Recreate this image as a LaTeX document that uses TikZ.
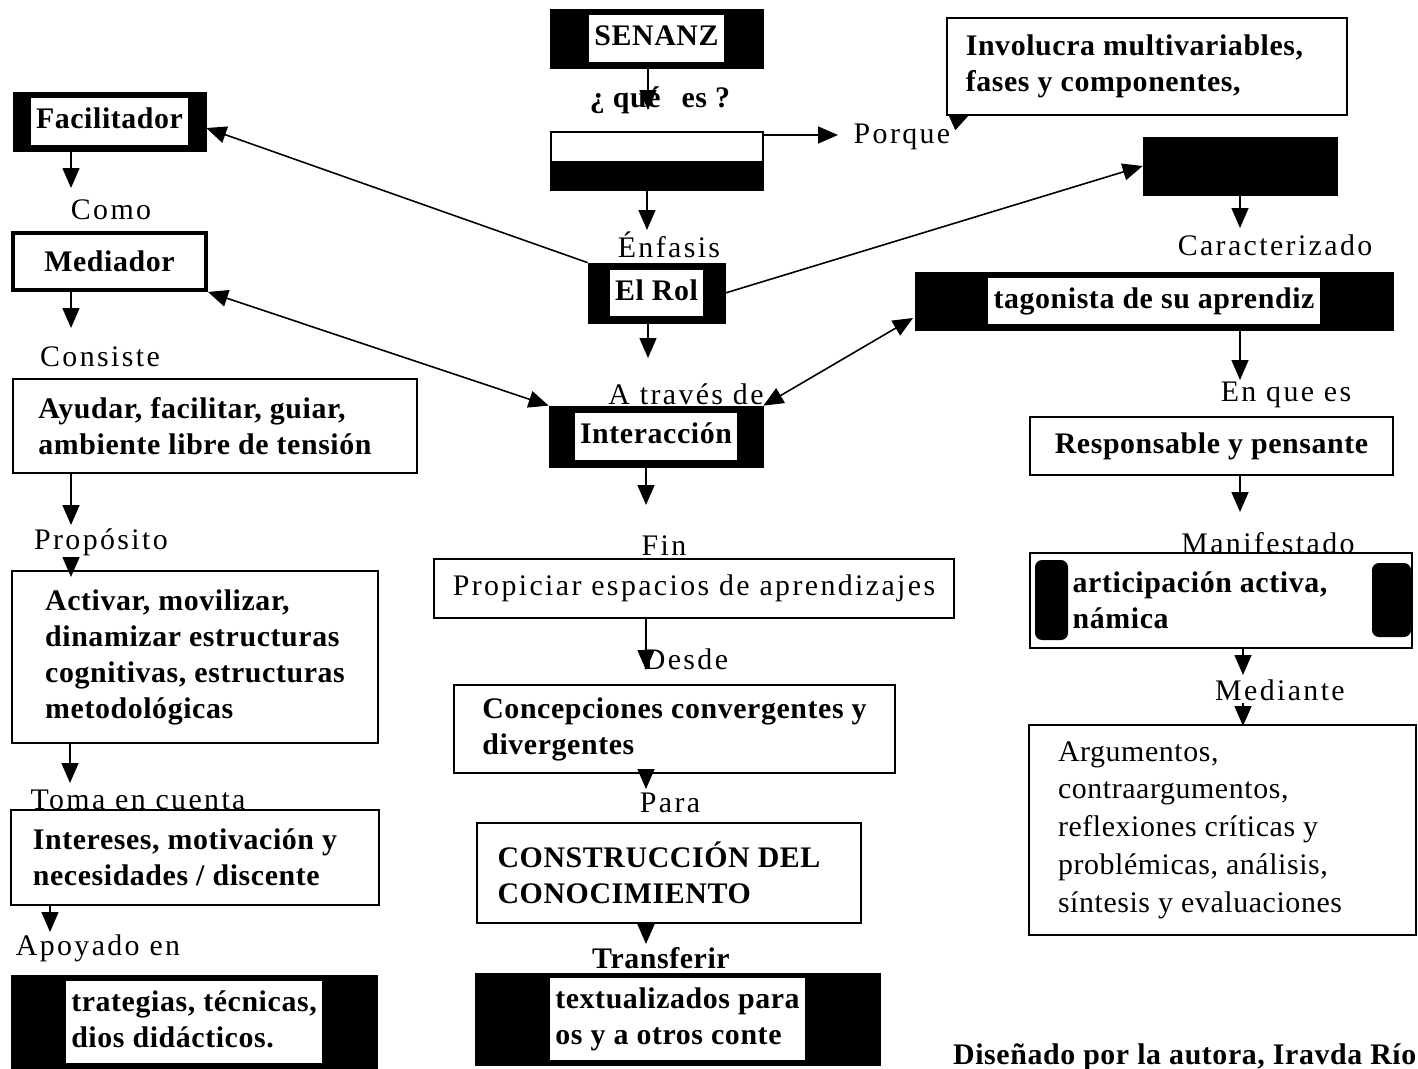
\documentclass[tikz,border=0pt]{standalone}
\usepackage{fontspec}
\setmainfont{Liberation Serif}
\newfontfamily\boxfont[LetterSpace=2]{Liberation Serif}
\newfontfamily\lblfont[LetterSpace=8]{Liberation Serif}
\usetikzlibrary{arrows.meta,positioning,calc}

% white patch inside the black boxes
\newcommand{\patch}[1]{\colorbox{white}{\begin{tabular}{@{}l@{}}#1\end{tabular}}}

\begin{document}
\begin{tikzpicture}[x=0.02cm,y=-0.02cm,
    >={Triangle[length=4mm,width=3.4mm]},
    every node/.style={font=\fontsize{17}{20.5}\boxfont\bfseries},
    darkbox/.style={draw,fill=black,inner sep=0pt},
    whitebox/.style={draw,fill=white,line width=0.9pt,align=left,inner sep=0pt},
    lbl/.style={font=\fontsize{17}{20.5}\lblfont,inner sep=1pt},
    arr/.style={->,line width=0.9pt},
    both/.style={<->,line width=0.9pt}]

  \fill[white] (0,0) rectangle (1418,1069);
  \useasboundingbox (0,0) rectangle (1418,1069);

  % centre column
  \node[darkbox,minimum width=4.26cm,minimum height=1.18cm] (senanz) at (656.5,38.5) {\patch{SENANZ}};
  \node (que) at (660,100) {¿ qué\hspace{0.7em}es ?};
  \node[draw,fill=white,line width=0.9pt,minimum width=4.24cm,minimum height=1.16cm] (proceso) at (657,161) {};
  \fill (proceso.west) rectangle (proceso.south east);
  \node[lbl] (porque) at (902,137) {Porque};
  \node[whitebox,minimum width=8cm,minimum height=1.94cm] (invol) at (1147,66.5) {Involucra multivariables,\hspace*{0.5cm}\\fases y componentes,};
  \node[lbl] (enfasis) at (669,245) {Énfasis};
  \node[darkbox,minimum width=2.74cm,minimum height=1.2cm] (rol) at (656.5,293) {\patch{El Rol}};
  \node[darkbox,minimum width=4.28cm,minimum height=1.22cm] (interac) at (656,436.5) {\patch{Interacción}};
  \node[lbl] (atraves) at (686,394) {A través de};
  \node[whitebox,font=\fontsize{17}{20.5}\lblfont,minimum width=10.4cm,minimum height=1.18cm] (propic) at (694,588.5) {Propiciar espacios de aprendizajes};
  \node[lbl] (fin) at (664,546) {Fin};
  \node[lbl] (desde) at (686,659) {Desde};
  \node[whitebox,minimum width=8.82cm,minimum height=1.76cm] (concep) at (674.5,729) {Concepciones convergentes y\\divergentes};
  \node[lbl] (para) at (670,803) {Para};
  \node[whitebox,minimum width=7.68cm,minimum height=2cm] (constr) at (669,873) {CONSTRUCCIÓN DEL\hspace*{0.4cm}\\CONOCIMIENTO};
  \node (transf) at (661,958) {Transferir};
  \node[darkbox,minimum width=8.1cm,minimum height=1.84cm] (context) at (677.5,1019) {\patch{textualizados para\\os y a otros conte}};

  % left column
  \node[darkbox,minimum width=3.86cm,minimum height=1.18cm] (facil) at (109.5,121.5) {\patch{Facilitador}};
  \node[lbl] (como) at (111,210) {Como};
  \node[whitebox,line width=2.2pt,minimum width=3.86cm,minimum height=1.14cm] (mediador) at (109.5,261.5) {Mediador};
  \node[lbl] (consiste) at (100,357) {Consiste};
  \node[whitebox,minimum width=8.08cm,minimum height=1.88cm] (ayudar) at (215,426) {Ayudar, facilitar, guiar,\\ambiente libre de tensión\hspace*{0.4cm}};
  \node[lbl] (proposito) at (101,542) {Propósito};
  \node[whitebox,minimum width=7.32cm,minimum height=3.44cm] (activar) at (195,657) {Activar, movilizar,\\dinamizar estructuras\\cognitivas, estructuras\hspace*{0.5cm}\\metodológicas};
  \node[whitebox,minimum width=7.36cm,minimum height=1.9cm] (inter) at (195,857.5) {Intereses, motivación y\hspace*{0.4cm}\\necesidades / discente};
  \node[lbl] (toma) at (138,800) {Toma en cuenta};
  \node[lbl] (apoyado) at (98,948) {Apoyado en};
  \node[darkbox,minimum width=7.32cm,minimum height=1.88cm] (estrat) at (194,1022) {\patch{trategias, técnicas,\\dios didácticos.}};

  % right column
  \node[darkbox,minimum width=3.88cm,minimum height=1.16cm] (alumno) at (1240,166) {};
  \node[lbl] (carac) at (1275,245) {Caracterizado};
  \node[darkbox,minimum width=9.56cm,minimum height=1.16cm] (protag) at (1154,301) {\patch{tagonista de su aprendiz}};
  \node[lbl] (enque) at (1286,395) {En que es};
  \node[whitebox,minimum width=7.26cm,minimum height=1.16cm] (respon) at (1211.5,446) {Responsable y pensante};
  \node[whitebox,minimum width=7.64cm,minimum height=1.9cm] (partic) at (1221,600.5) {articipación activa,\hspace*{0.84cm}\\námica};
  \fill[rounded corners=4pt] (1035,560) rectangle (1068,640);
  \fill[rounded corners=4pt] (1372,563) rectangle (1411,637);
  \node[lbl] (manif) at (1268,543) {Manifestado};
  \node[lbl] (mediante) at (1280,690) {Mediante};
  \node[whitebox,font=\fontsize{17}{21.5}\boxfont,minimum width=7.74cm,minimum height=4.2cm] (argum) at (1222.5,830) {Argumentos,\\contraargumentos,\\reflexiones críticas y\\problémicas, análisis,\\síntesis y evaluaciones\hspace*{0.9cm}};

  \node[anchor=west] (credit) at (947,1057) {Diseñado por la autora, Iravda Río};

  % arrow ends
  \coordinate (t1) at (648,110);
  \coordinate (t2) at (647,230);
  \coordinate (t3) at (648,358);
  \coordinate (t4) at (646,505);
  \coordinate (t5) at (646,670);
  \coordinate (t6) at (646,789);
  \coordinate (t7) at (646,944);
  \coordinate (l1) at (71,188);
  \coordinate (l2) at (71,328);
  \coordinate (l3) at (71,525);
  \coordinate (l4) at (71,577);
  \coordinate (l5) at (70,783);
  \coordinate (l6) at (50,932);
  \coordinate (r1) at (1240,228);
  \coordinate (r2) at (1240,380);
  \coordinate (r3) at (1240,512);
  \coordinate (r4) at (1243,675);
  \coordinate (r5) at (1243,726);
  \coordinate (p2) at (838,135);
  \coordinate (ip) at (970,114);
  \coordinate (f1) at (0,128);
  \coordinate (g1) at (913,318);

  \draw[arr] (senanz.south -| t1) -- (t1);
  \draw[arr] (proceso.south -| t2) -- (t2);
  \draw[arr] (rol.south -| t3) -- (t3);
  \draw[arr] (interac.south -| t4) -- (t4);
  \draw[arr] (propic.south -| t5) -- (t5);
  \draw[arr] (concep.south -| t6) -- (t6);
  \draw[arr] (constr.south -| t7) -- (t7);
  \draw[arr] (facil.south -| l1) -- (l1);
  \draw[arr] (mediador.south -| l2) -- (l2);
  \draw[arr] (ayudar.south -| l3) -- (l3);
  \draw[arr] (proposito.south -| l4) -- (l4);
  \draw[arr] (activar.south -| l5) -- (l5);
  \draw[arr] (inter.south -| l6) -- (l6);
  \draw[arr] (alumno.south -| r1) -- (r1);
  \draw[arr] (protag.south -| r2) -- (r2);
  \draw[arr] (respon.south -| r3) -- (r3);
  \draw[arr] (partic.south -| r4) -- (r4);
  \draw[arr] (mediante.south -| r5) -- (r5);

  \draw[arr] (proceso.north east |- p2) -- (p2);
  \draw[arr] (porque.north east) -- (ip);
  \draw[arr] (rol.north west) -- (facil.east |- f1);
  \draw[arr] (rol.east) -- (alumno.west);
  \draw[both] (mediador.south east) -- (interac.north west);
  \draw[both] (g1) -- (interac.north east);
\end{tikzpicture}
\end{document}
